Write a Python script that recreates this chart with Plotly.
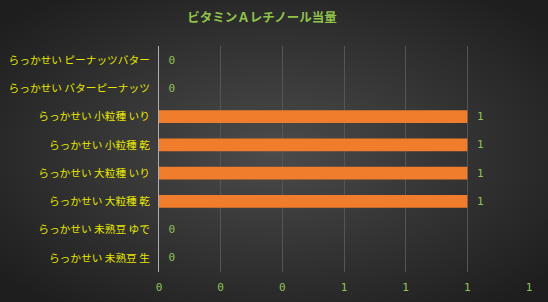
import base64
import plotly.graph_objects as go

categories = [
    "らっかせい ピーナッツバター",
    "らっかせい バターピーナッツ",
    "らっかせい 小粒種 いり",
    "らっかせい 小粒種 乾",
    "らっかせい 大粒種 いり",
    "らっかせい 大粒種 乾",
    "らっかせい 未熟豆 ゆで",
    "らっかせい 未熟豆 生",
]
values = [0, 0, 1, 1, 1, 1, 0, 0]
title_text = "ビタミンＡレチノール当量"

W, H = 548, 302
L, R, T, B = 159, 19, 46, 30
pw, ph = W - L - R, H - T - B

svg = f'''<svg xmlns="http://www.w3.org/2000/svg" width="{W}" height="{H}" viewBox="0 0 {W} {H}" preserveAspectRatio="none">
<defs><radialGradient id="g" cx="50%" cy="50%" r="65%">
<stop offset="0%" stop-color="#4b4b4b"/><stop offset="100%" stop-color="#1e1e1e"/>
</radialGradient></defs>
<rect width="{W}" height="{H}" fill="url(#g)"/></svg>'''
bg_uri = "data:image/svg+xml;base64," + base64.b64encode(svg.encode()).decode()

fig = go.Figure()
fig.add_trace(go.Bar(
    y=categories, x=values, orientation="h",
    marker=dict(color="#f07d2c", line=dict(width=0)),
    text=values, texttemplate="\u00a0%{x:.0f}", textposition="outside",
    constraintext="none",
    textfont=dict(color="#8fc456", size=11, family="DejaVu Sans Mono"),
    cliponaxis=False,
))

fig.update_layout(
    width=W, height=H,
    margin=dict(l=L, r=R, t=T, b=B),
    paper_bgcolor="#2e2e2e",
    plot_bgcolor="rgba(0,0,0,0)",
    bargap=0.54,
    showlegend=False,
    title=dict(text="<b>" + title_text + "</b>", x=262 / W, xanchor="center", y=1 - 18 / H, yanchor="middle",
               font=dict(color="#8fc34a", size=12.5, family="Noto Sans CJK JP")),
    font=dict(family="Noto Sans CJK JP", size=11),
    xaxis=dict(range=[0, 1.2], dtick=0.2, tick0=0, tickformat=".0f", automargin=False,
               showgrid=True, gridcolor="#555555", gridwidth=1, zeroline=False,
               showline=False, ticks="", ticklabelstandoff=7,
               tickfont=dict(color="#8fc456", size=11, family="DejaVu Sans Mono"),
               fixedrange=True),
    yaxis=dict(autorange="reversed", showgrid=False, showline=True, linecolor="#b0b0b0", linewidth=1,
               automargin=False, ticks="", ticklabelstandoff=6,
               tickfont=dict(color="#e6e600", size=10.7)),
    images=[dict(source=bg_uri, xref="paper", yref="paper", x=-L / pw, y=1 + T / ph,
                 sizex=W / pw, sizey=H / ph, sizing="stretch", xanchor="left", yanchor="top",
                 layer="below")],
)

fig.write_html("out.html")
